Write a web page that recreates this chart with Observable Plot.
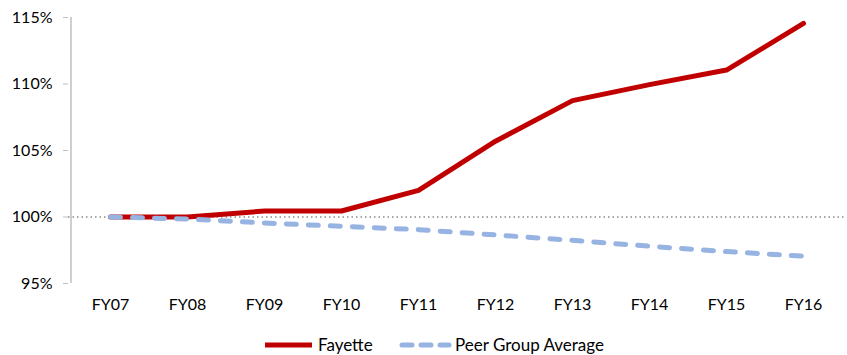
<!DOCTYPE html>
<html>
<head>
<meta charset="utf-8">
<script src="https://cdn.jsdelivr.net/npm/d3@7"></script>
<script src="https://cdn.jsdelivr.net/npm/@observablehq/plot@0.6"></script>
<style>
  body { margin: 0; background: #fff; font-family: Lato, "Open Sans", sans-serif; }
  #chart { width: 847px; }
  #legend { position: relative; height: 27px; width: 847px; color: #000; }
</style>
</head>
<body>
<div id="chart"></div>
<script>
const years = ["FY07","FY08","FY09","FY10","FY11","FY12","FY13","FY14","FY15","FY16"];
const fayette = [100, 100, 100.45, 100.45, 102.0, 105.7, 108.75, 109.95, 111.05, 114.55];
const peer = [100, 99.85, 99.55, 99.3, 99.05, 98.65, 98.25, 97.8, 97.4, 97.05];
const seriesNames = ["Fayette", "Peer Group Average"];
const yTicks = [95, 100, 105, 110, 115];

const rows = [];
years.forEach((y, i) => {
  rows.push({year: y, value: fayette[i], series: seriesNames[0]});
  rows.push({year: y, value: peer[i], series: seriesNames[1]});
});

const chart = Plot.plot({
  width: 847,
  height: 328,
  marginLeft: 68,
  marginRight: 2,
  marginTop: 17,
  marginBottom: 45,
  style: {fontFamily: "Lato, 'Open Sans', sans-serif", fontSize: "16px", color: "#000", background: "#fff"},
  x: {type: "point", domain: years, padding: 0.5, label: null},
  y: {domain: [95, 115], label: null},
  marks: [
    Plot.ruleY([100], {stroke: "#8c8c8c", strokeWidth: 1.5, strokeDasharray: "1.5,3"}),
    Plot.axisY({ticks: yTicks, tickFormat: d => d + "%", tickSize: 5, tickPadding: 11, stroke: "#bfbfbf", fill: "#000", label: null, fontSize: 16}),
    Plot.ruleX([0], {x: () => years[0], dx: -39.5, y1: 95, y2: 115, stroke: "#bfbfbf", strokeWidth: 1.5}),
    Plot.axisX({tickSize: 0, tickPadding: 15, label: null, fill: "#000", fontSize: 16}),
    Plot.line(rows.filter(d => d.series === seriesNames[0]), {x: "year", y: "value", stroke: "#C00000", strokeWidth: 5, strokeLinejoin: "round", strokeLinecap: "round"}),
    Plot.line(rows.filter(d => d.series === seriesNames[1]), {x: "year", y: "value", stroke: "#97B3E2", strokeWidth: 5, strokeDasharray: "10,12", strokeLinecap: "round"})
  ]
});
document.getElementById("chart").appendChild(chart);

const legend = d3.select("body").append("div").attr("id", "legend");
const lsvg = legend.append("svg").attr("width", 847).attr("height", 27);
lsvg.append("line").attr("x1", 265).attr("x2", 312).attr("y1", 17).attr("y2", 17)
  .attr("stroke", "#C00000").attr("stroke-width", 5);
lsvg.append("text").attr("x", 318).attr("y", 23).text(seriesNames[0])
  .attr("font-family", "Lato, 'Open Sans', sans-serif").attr("font-size", 17);
lsvg.append("line").attr("x1", 402).attr("x2", 449).attr("y1", 17).attr("y2", 17)
  .attr("stroke", "#97B3E2").attr("stroke-width", 5).attr("stroke-dasharray", "10,9").attr("stroke-linecap", "round");
lsvg.append("text").attr("x", 455).attr("y", 23).text(seriesNames[1])
  .attr("font-family", "Lato, 'Open Sans', sans-serif").attr("font-size", 17);
</script>
</body>
</html>
